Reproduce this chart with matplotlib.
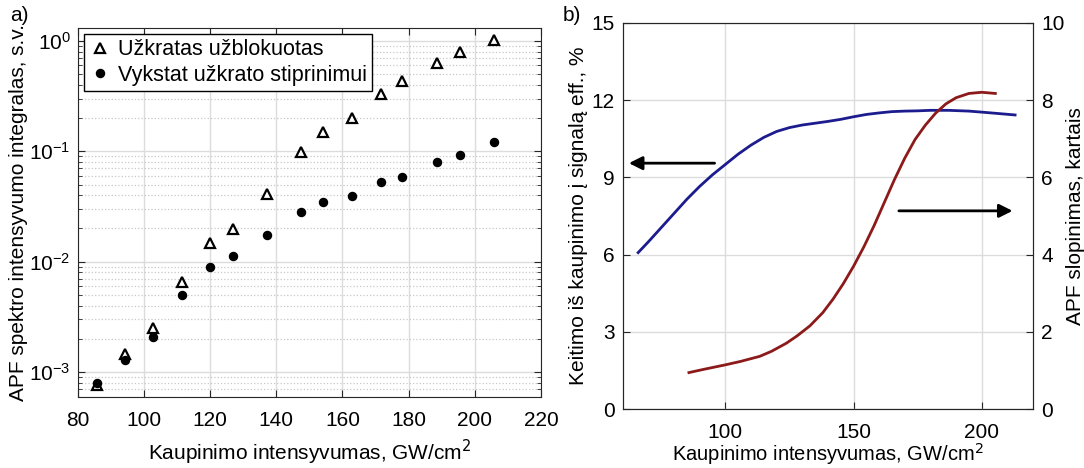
import numpy as np
import matplotlib
matplotlib.use('Agg')
import matplotlib.pyplot as plt
from matplotlib.ticker import LogLocator, NullFormatter

plt.rcParams['font.family'] = ['Liberation Sans', 'DejaVu Sans']
plt.rcParams['font.size'] = 15
plt.rcParams['axes.unicode_minus'] = False

# (a) APF spectrum intensity integral vs pump intensity
x_a = [85.7, 94.3, 102.8, 111.4, 120.0, 126.8, 137.1, 147.4, 154.2, 162.9, 171.5, 178.1, 188.5, 195.5, 205.7]
blocked = [0.00076, 0.00146, 0.00249, 0.0066, 0.0149, 0.0198, 0.0407, 0.098, 0.151, 0.202, 0.331, 0.433, 0.634, 0.796, 1.01]
amplified = [0.00079, 0.00129, 0.00208, 0.00505, 0.00895, 0.0113, 0.0175, 0.0282, 0.0348, 0.039, 0.0523, 0.0588, 0.080, 0.0933, 0.122]

# (b) conversion efficiency (left axis) and APF suppression (right axis)
x_eff = [66, 70, 75, 80, 85, 90, 95, 100, 105, 110, 115, 120, 125, 130, 135, 140, 145, 150,
         155, 160, 165, 170, 175, 180, 187, 195, 200, 206, 213]
eff = [6.08, 6.5, 7.05, 7.6, 8.15, 8.65, 9.1, 9.5, 9.9, 10.25, 10.55, 10.78, 10.93, 11.03, 11.1, 11.17, 11.25, 11.35,
       11.44, 11.5, 11.55, 11.57, 11.58, 11.6, 11.6, 11.57, 11.53, 11.48, 11.42]
x_sup = [85.8, 92, 100, 106, 113.4, 118, 123.8, 128, 133, 138, 142, 146, 150, 154, 158, 162, 166,
         170, 174, 178, 182, 186, 190, 195, 200, 205.3]
sup = [0.95, 1.04, 1.15, 1.24, 1.37, 1.5, 1.71, 1.9, 2.16, 2.5, 2.85, 3.25, 3.7, 4.2, 4.75, 5.35, 5.95,
       6.5, 6.98, 7.35, 7.66, 7.9, 8.06, 8.17, 8.2, 8.17]

grid_c = '#dcdcdc'
spine_c = '#262626'

fig = plt.figure(figsize=(10.84, 4.68), dpi=100)

# ---- panel a
ax = fig.add_axes([0.0717, 0.1524, 0.4274, 0.788])
ax.set_yscale('log')
ax.plot(x_a, blocked, linestyle='none', marker='^', markersize=6.5, markerfacecolor='white',
        markeredgecolor='black', markeredgewidth=1.6, label='Užkratas užblokuotas', zorder=3)
ax.plot(x_a, amplified, linestyle='none', marker='o', markersize=5.8, color='black',
        label='Vykstat užkrato stiprinimui', zorder=3)
ax.set_xlim(80, 220)
ax.set_ylim(0.0006, 1.31)
ax.set_xticks(np.arange(80, 221, 20))
ax.yaxis.set_major_locator(LogLocator(base=10, numticks=10))
ax.yaxis.set_minor_locator(LogLocator(base=10, subs=np.arange(2, 10), numticks=20))
ax.yaxis.set_minor_formatter(NullFormatter())
ax.grid(True, which='major', color=grid_c, linewidth=1.0)
ax.grid(True, which='minor', axis='y', color='#c8c8c8', linestyle=':', linewidth=0.9)
ax.tick_params(which='both', direction='in', top=True, right=True, colors=spine_c, labelcolor='black')
ax.tick_params(which='major', length=5)
ax.tick_params(which='minor', length=3)
ax.tick_params(axis='x', pad=10)
ax.tick_params(axis='y', pad=5)
for s in ax.spines.values():
    s.set_color(spine_c)
ax.set_xlabel('Kaupinimo intensyvumas, GW/cm$^2$', labelpad=6)
ax.set_ylabel('APF spektro intensyvumo integralas, s.v.', labelpad=1)
leg = ax.legend(loc='upper left', bbox_to_anchor=(0.005, 0.995), fancybox=False, framealpha=1,
                edgecolor='black', handletextpad=0.3, borderpad=0.25, handlelength=1.0,
                labelspacing=0.2, borderaxespad=0.2, fontsize=15.5)
leg.get_frame().set_linewidth(1.0)
fig.text(0.009, 0.955, 'a)', fontsize=15)

# ---- panel b
bx = fig.add_axes([0.5745, 0.1254, 0.3785, 0.8261])
bx.plot(x_eff, eff, color='#1c1c8e', linewidth=2)
bx.set_xlim(60, 220)
bx.set_ylim(0, 15)
bx.set_xticks([100, 150, 200])
bx.set_yticks(np.arange(0, 16, 3))
bx.grid(True, color=grid_c, linewidth=1.0)
bx.tick_params(direction='in', length=5, colors=spine_c, labelcolor='black')
bx.tick_params(axis='x', pad=10)
bx.tick_params(axis='y', pad=6)
for s in bx.spines.values():
    s.set_color(spine_c)
bx.set_xlabel('Kaupinimo intensyvumas, GW/cm$^2$', labelpad=-1, fontsize=14.5)
bx.set_ylabel('Keitimo iš kaupinimo į signalą eff., %', labelpad=2)
bx.annotate('', xy=(61.3, 9.55), xytext=(96.9, 9.55),
            arrowprops=dict(arrowstyle='-|>', color='black', lw=2, mutation_scale=20))
bx.annotate('', xy=(213.1, 7.7), xytext=(166.6, 7.7),
            arrowprops=dict(arrowstyle='-|>', color='black', lw=2, mutation_scale=20))

cx = bx.twinx()
cx.plot(x_sup, sup, color='#8c1a1a', linewidth=2)
cx.set_ylim(0, 10)
cx.set_yticks(np.arange(0, 11, 2))
cx.tick_params(direction='in', length=5, colors=spine_c, labelcolor='black', pad=6)
for s in cx.spines.values():
    s.set_color(spine_c)
cx.set_ylabel('APF slopinimas, kartais', labelpad=1)
fig.text(0.519, 0.955, 'b)', fontsize=15)

fig.savefig('out.png', dpi=100)
